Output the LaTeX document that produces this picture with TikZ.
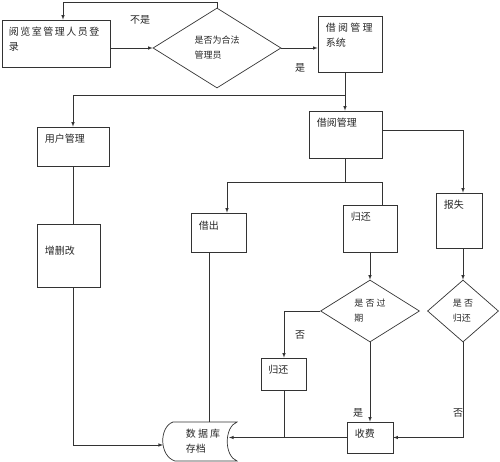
\documentclass[tikz,border=0pt]{standalone}
\usepackage{fontspec}
\setmainfont{Noto Sans CJK SC}
\usetikzlibrary{arrows, shapes.geometric, calc}
\tikzset{
    my-box/.style={
      draw=black!80, line width=.7pt, rectangle, inner sep=0pt
    },
    my-decision/.style={
      draw=black!80, line width=.7pt, diamond, inner sep=0pt, align=left,
      font=\fontsize{9}{15}\selectfont
    },
    my-text/.style={
      anchor=north west, inner sep=0pt, align=left
    },
    my-wire/.style={
      draw=black!80, line width=.6pt
    },
    my-arrow/.style={
      my-wire, -latex
    },
}
\begin{document}
\begin{tikzpicture}[x=1pt, y=-1pt, font=\fontsize{10}{15}\selectfont, text=black!85]
        \useasboundingbox (0,0) rectangle (500,462);

        % LOGIN AND CHECK
        \node[my-box, minimum width=108pt, minimum height=47pt] (LOGIN) at (56,43.5) {};
        \node[my-text] (LOGINTXT) at ($(LOGIN.north west)+(7,7)$) {阅\hspace{1.5pt}览\hspace{1.5pt}室\hspace{1.5pt}管\hspace{1.5pt}理\hspace{1.5pt}人\hspace{1.5pt}员\hspace{1.5pt}登\\录};
        \node[my-decision, minimum width=128pt, minimum height=80pt] (CHECK) at (217,48) {是否为合法\\管理员};
        \coordinate (TOPTURN) at (63,2);
        \draw[my-arrow] (CHECK.west -| LOGIN.east) -- (CHECK.west);
        \draw[my-arrow] (CHECK.north) |- (TOPTURN) -- (TOPTURN |- LOGIN.north);
        \node[] (NOTYES) at (140,20) {不是};

        % SYSTEM
        \node[my-box, minimum width=64pt, minimum height=56pt] (SYSTEM) at (350,44) {};
        \node[my-text] (SYSTEMTXT) at ($(SYSTEM.north west)+(8,7)$) {借 阅 管 理\\系统};
        \draw[my-arrow] (CHECK.east) -- (CHECK.east -| SYSTEM.west);
        \node[] (YES1) at (300,68) {是};

        % BORROW MANAGEMENT AND USER MANAGEMENT
        \node[my-box, minimum width=73pt, minimum height=47pt] (BORROW) at (345.5,134.5) {};
        \node[my-text] (BORROWTXT) at ($(BORROW.north west)+(8,7)$) {借阅管理};
        \coordinate (SPLIT1) at (345,95);
        \draw[my-arrow] (SPLIT1 |- SYSTEM.south) -- (SPLIT1 |- BORROW.north);
        \node[my-box, minimum width=72pt, minimum height=39pt] (USER) at (73,146.5) {};
        \node[my-text] (USERTXT) at ($(USER.north west)+(8,7)$) {用户管理};
        \draw[my-arrow] (SPLIT1) -| (USER.north);
        \node[my-box, minimum width=63pt, minimum height=63pt] (EDIT) at (68.5,255.5) {};
        \node[my-text] (EDITTXT) at ($(EDIT.north west)+(8,22)$) {增删改};
        \draw[my-wire] (USER.south) -- (USER.south |- EDIT.north);

        % DATABASE
        \node[inner sep=0pt, align=left, minimum width=74pt, minimum height=39pt] (DB) at (203,441.5) {数 据 库\\存档};
        \draw[my-wire, line width=.7pt] (173,422) -- (237,422) .. controls (224,427) and (224,456) .. (237,461)
            -- (175,461) .. controls (159,456) and (159,427) .. (173,422) -- cycle;
        \coordinate (DBLEFT) at (163,445);
        \coordinate (DBRIGHT) at (229,437.5);
        \draw[my-arrow] (USER.south |- EDIT.south) |- (DBLEFT);

        % LEND, RETURN, LOST
        \coordinate (SPLIT2) at ($(BORROW.south)+(0,24)$);
        \node[my-box, minimum width=55pt, minimum height=39pt] (LEND) at (218.5,232.5) {};
        \node[my-text] (LENDTXT) at ($(LEND.north west)+(8,8)$) {借出};
        \node[my-box, minimum width=54pt, minimum height=47pt] (RETURN1) at (370,228.5) {};
        \node[my-text] (RETURN1TXT) at ($(RETURN1.north west)+(8,7)$) {归还};
        \node[my-box, minimum width=46pt, minimum height=55pt] (LOST) at (459,220.5) {};
        \node[my-text] (LOSTTXT) at ($(LOST.north west)+(8,7)$) {报失};
        \draw[my-wire] (BORROW.south) -- (SPLIT2);
        \draw[my-arrow] (SPLIT2) -| ($(LEND.north)+(8.5,0)$);
        \draw[my-wire] (SPLIT2) -| ($(RETURN1.north)+(12,0)$);
        \draw[my-arrow] ($(BORROW.east)+(0,-4.5)$) -| ($(LOST.north)+(4,0)$);
        \coordinate (LENDOUT) at ($(LEND.south)+(-9.5,0)$);
        \draw[my-wire] (LENDOUT) -- (LENDOUT |- DB.north);

        % OVERDUE AND RETURNED CHECKS
        \node[my-decision, minimum width=99pt, minimum height=62pt] (OVERDUE) at (370,311) {是 否 过\\期};
        \node[my-decision, minimum width=71pt, minimum height=62pt] (RETURNED) at (463,311) {是 否\\归还};
        \draw[my-arrow] (RETURN1.south) -- (OVERDUE.north);
        \draw[my-arrow] (RETURNED.north |- LOST.south) -- (RETURNED.north);

        % RETURN AND FEE
        \node[my-box, minimum width=45pt, minimum height=32pt] (RETURN2) at (284,374) {};
        \node[my-text] (RETURN2TXT) at ($(RETURN2.north west)+(7,7)$) {归还};
        \node[my-box, minimum width=46pt, minimum height=31pt] (FEE) at (370,437.5) {};
        \node[my-text] (FEETXT) at ($(FEE.north west)+(8,7)$) {收费};
        \draw[my-arrow] (OVERDUE.west) -| (RETURN2.north);
        \draw[my-arrow] (OVERDUE.south) -- (FEE.north);
        \draw[my-arrow] (RETURNED.south) |- (FEE.east);
        \draw[my-arrow] (FEE.west) -- (DBRIGHT);
        \draw[my-wire] (RETURN2.south) -- (RETURN2.south |- FEE.west);
        \node[] (NO1) at (300,335) {否};
        \node[] (YES2) at (358,413) {是};
        \node[] (NO2) at (458,413) {否};

    \end{tikzpicture}
\end{document}
